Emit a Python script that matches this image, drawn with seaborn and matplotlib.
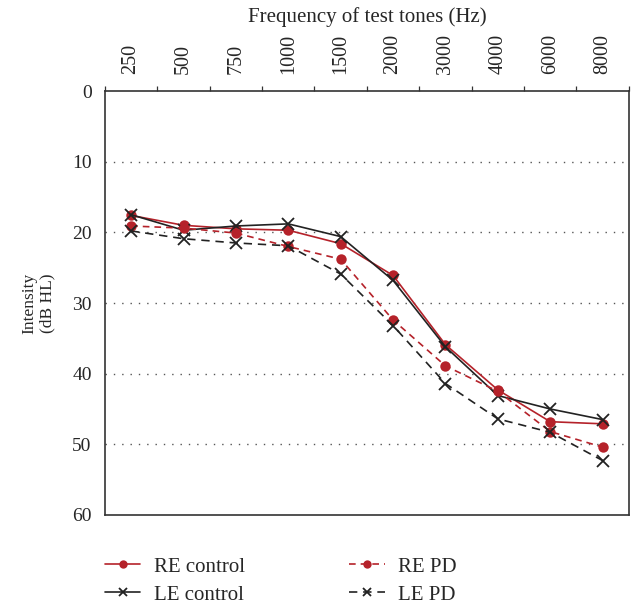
import pandas as pd
import matplotlib
matplotlib.use("Agg")
import matplotlib.pyplot as plt
import seaborn as sns
from matplotlib.ticker import FixedLocator

# Audiogram values (dB HL)
frequencies = ["250", "500", "750", "1000", "1500", "2000", "3000", "4000", "6000", "8000"]
re_control = [17.6, 19.0, 19.5, 19.7, 21.6, 26.1, 35.9, 42.3, 46.8, 47.1]
le_control = [17.5, 19.7, 19.1, 18.8, 20.6, 26.8, 36.2, 43.1, 45.0, 46.5]
re_pd = [19.1, 19.4, 20.1, 22.0, 23.8, 32.4, 38.9, 42.5, 48.2, 50.4]
le_pd = [19.8, 20.9, 21.5, 21.9, 25.9, 33.2, 41.4, 46.4, 48.3, 52.3]

series = {"RE control": re_control, "LE control": le_control,
          "RE PD": re_pd, "LE PD": le_pd}

rows = []
for name, vals in series.items():
    for f, v in zip(frequencies, vals):
        rows.append({"freq": f, "intensity": v, "group": name})
df = pd.DataFrame(rows)

sns.set_style("white")
plt.rcParams['font.family'] = ['Liberation Serif', 'DejaVu Serif']

red = "#b5222a"
black = "#222222"
styles = {
    "RE control": dict(color=red, linestyle="-", marker="o", ms=7.5, mew=0),
    "LE control": dict(color=black, linestyle="-", marker="x", ms=8, mew=1.3),
    "RE PD": dict(color=red, linestyle=(0, (4, 3)), marker="o", ms=7.5, mew=0),
    "LE PD": dict(color=black, linestyle=(0, (5, 3.5)), marker="x", ms=8, mew=1.3),
}

fig = plt.figure(figsize=(6.32, 6.03), dpi=100)
ax = fig.add_axes([0.166, 0.146, 0.829, 0.703])

for name in series:
    st = styles[name]
    sub = df[df["group"] == name]
    sns.lineplot(data=sub, x="freq", y="intensity", ax=ax, color=st["color"],
                 linestyle=st["linestyle"], marker=st["marker"], markersize=st["ms"],
                 markeredgewidth=st["mew"], markeredgecolor=st["color"],
                 linewidth=1.2, label=name, sort=False)

n = len(frequencies)
ax.set_xlim(-0.5, n - 0.5)
ax.set_ylim(60, 0)
ax.set_yticks(range(0, 61, 10))
ax.xaxis.tick_top()
ax.xaxis.set_label_position("top")
ax.set_xticks(range(n))
ax.set_xticklabels(frequencies, rotation=90, fontsize=14.5)
ax.xaxis.set_minor_locator(FixedLocator([i - 0.5 for i in range(n + 1)]))
ax.tick_params(axis="x", which="major", length=0, pad=12)
ax.tick_params(axis="x", which="minor", length=3.5, width=0.9, direction="out", color="#333333")
ax.tick_params(axis="y", length=3.5, width=0.9, direction="out", labelsize=14, pad=6, color="#333333")
ax.set_xlabel("Frequency of test tones (Hz)", fontsize=15, labelpad=9)
ax.set_ylabel("Intensity\n(dB HL)", fontsize=12.5, labelpad=12)

for y in range(10, 60, 10):
    ax.axhline(y, color="#555555", linestyle=(0, (1, 5)), linewidth=1.0, zorder=0)

for sp in ax.spines.values():
    sp.set_color("#333333")
    sp.set_linewidth(1.2)

handles, labels = ax.get_legend_handles_labels()
ax.get_legend().remove()
fig.legend(handles, labels, ncol=2, loc="upper left",
           bbox_to_anchor=(105 / 632, 1 - 557 / 603), borderaxespad=0, borderpad=0,
           frameon=False, fontsize=15, handlelength=1.7, columnspacing=5.0,
           handletextpad=0.65, labelspacing=0.4, markerscale=0.8)

fig.savefig("out.png", dpi=100)
